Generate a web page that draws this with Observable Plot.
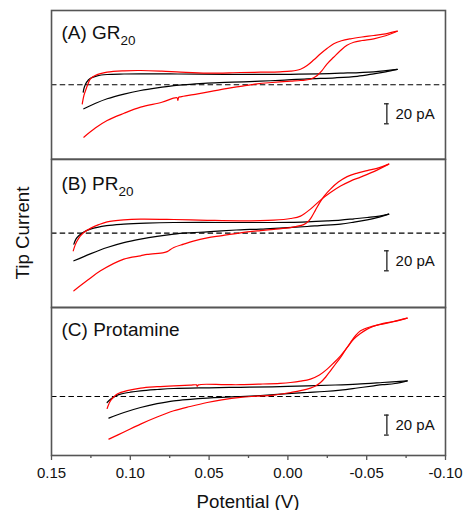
<!DOCTYPE html>
<html><head><meta charset="utf-8">
<script src="https://cdn.jsdelivr.net/npm/d3@7"></script>
<script src="https://cdn.jsdelivr.net/npm/@observablehq/plot@0.6"></script>
<style>
body{margin:0;background:#fff;}
#chart{position:relative;width:464px;height:510px;overflow:hidden;background:#fff;font-family:"Liberation Sans",Arial,sans-serif;}
#chart svg{position:absolute;left:0;}
</style></head><body><div id="chart"></div>
<script>
// ---------- data ----------
const xTicks = [0.15, 0.10, 0.05, 0.00, -0.05, -0.10];
const xMinorTicks = [0.125, 0.075, 0.025, -0.025, -0.075];
const xLabel = "Potential (V)";
const yLabel = "Tip Current";
const panelNames = ["(A) GR", "(B) PR", "(C) Protamine"];
const panelSubscripts = ["20", "20", ""];
const scaleBarText = "20 pA";
const scaleBarSize = 20;

// [potential (V), current (pA) relative to dashed baseline]
const grBlackFwd = [[0.1299,-7.4],[0.1292,-2.5],[0.1278,2.5],[0.1253,6.5],[0.1210,9],[0.1147,10.3],[0.1040,10.8],[0.0935,11],[0.0700,10.8],[0.0400,10.4],[0.0174,10.4],[-0.0017,10.5],[-0.0200,11],[-0.0334,11.6],[-0.0545,13],[-0.0694,15.5]];
const grBlackRev = [[-0.0694,15.5],[-0.0620,13],[-0.0545,11],[-0.0440,8.5],[-0.0300,7],[-0.0122,6],[0.0050,4.5],[0.0174,3.6],[0.0350,2.6],[0.0512,1.6],[0.0620,0.5],[0.0724,-0.8],[0.0830,-3],[0.0935,-5.7],[0.1040,-9.3],[0.1147,-14],[0.1220,-18.5],[0.1295,-24]];
const grRedFwd = [[0.1305,-19],[0.1295,-11],[0.1284,-5.7],[0.1268,1],[0.1253,6],[0.1220,9.5],[0.1147,12.6],[0.1040,14],[0.0935,14.3],[0.0800,13.6],[0.0681,12.6],[0.0512,11.6],[0.0301,12.3],[0.0174,12.6],[0.0050,13],[-0.0017,13.6],[-0.0080,15.5],[-0.0122,19.3],[-0.0165,25],[-0.0207,31],[-0.0250,36.5],[-0.0291,41],[-0.0340,44],[-0.0397,46],[-0.0470,47.8],[-0.0545,49.3],[-0.0620,51],[-0.0694,53.6]];
const grRedRev = [[-0.0694,53.6],[-0.0620,49],[-0.0545,46],[-0.0470,44.3],[-0.0418,42.6],[-0.0375,39.5],[-0.0334,34.3],[-0.0290,27.5],[-0.0249,21],[-0.0215,14],[-0.0186,9.3],[-0.0143,5.5],[-0.0080,4.3],[-0.0017,3.6],[0.0100,2.3],[0.0195,1],[0.0301,-1.5],[0.0420,-4.5],[0.0512,-7.4],[0.0600,-9.8],[0.0681,-12],[0.0693,-12.5],[0.0698,-15.5],[0.0704,-13],[0.0800,-17.5],[0.0935,-22.4],[0.1040,-28.5],[0.1147,-35.7],[0.1220,-43],[0.1295,-52.4]];

const prBlackFwd = [[0.1358,-11],[0.1345,-6],[0.1327,-2.7],[0.1295,1],[0.1253,4],[0.1150,7.5],[0.1041,9],[0.0900,10],[0.0724,10.6],[0.0400,10.6],[0.0174,10.6],[-0.0017,10.8],[-0.0122,11.3],[-0.0250,12.2],[-0.0334,13],[-0.0420,14.3],[-0.0503,15.6],[-0.0580,17],[-0.0640,19]];
const prBlackRev = [[-0.0640,19],[-0.0580,16],[-0.0503,13.3],[-0.0420,11],[-0.0334,9],[-0.0200,7.5],[-0.0122,6.6],[0.0030,5.3],[0.0174,4],[0.0301,3.3],[0.0420,2.3],[0.0512,1.3],[0.0620,0.3],[0.0724,-1],[0.0830,-3.2],[0.0935,-6],[0.1041,-9.5],[0.1147,-14.4],[0.1250,-20.5],[0.1358,-27.7]];
const prRedFwd = [[0.1362,-17.7],[0.1350,-12],[0.1337,-7.7],[0.1318,-3],[0.1295,0.6],[0.1250,5],[0.1200,8.5],[0.1147,11.3],[0.1041,13.3],[0.0935,14],[0.0724,13.6],[0.0512,12.8],[0.0301,12.3],[0.0089,13],[-0.0017,14.6],[-0.0080,17],[-0.0143,24],[-0.0207,33],[-0.0270,40.5],[-0.0334,47],[-0.0397,52],[-0.0461,56],[-0.0545,61.5],[-0.0640,69]];
const prRedRev = [[-0.0640,69],[-0.0580,65.5],[-0.0503,62.5],[-0.0440,60],[-0.0376,56.5],[-0.0320,51],[-0.0270,44],[-0.0230,37],[-0.0200,30],[-0.0175,23],[-0.0150,16],[-0.0131,12],[-0.0100,8.5],[-0.0050,6.5],[-0.0017,5.5],[0.0089,3.8],[0.0174,2.5],[0.0301,0.3],[0.0428,-2.7],[0.0512,-4.8],[0.0600,-8],[0.0661,-11],[0.0724,-14.4],[0.0766,-18.5],[0.0787,-19.5],[0.0893,-21.3],[0.0935,-22.7],[0.1041,-26],[0.1189,-37.7],[0.1270,-47],[0.1358,-57.7]];

const ptBlackFwd = [[0.1147,-6],[0.1131,-3.5],[0.1115,-1.6],[0.1090,0.8],[0.1062,2.4],[0.1000,4.3],[0.0935,5.7],[0.0830,7],[0.0724,8],[0.0500,8.7],[0.0301,9.2],[0.0100,9.7],[-0.0122,10.7],[-0.0300,11.5],[-0.0440,12.4],[-0.0600,14],[-0.0757,15.7]];
const ptBlackRev = [[-0.0757,15.7],[-0.0680,13],[-0.0600,11.8],[-0.0545,10.7],[-0.0440,8.5],[-0.0334,6.4],[-0.0230,5],[-0.0122,4],[0.0000,2.8],[0.0174,1],[0.0301,0],[0.0420,-0.8],[0.0512,-1.6],[0.0620,-2.8],[0.0724,-4.3],[0.0830,-7.2],[0.0935,-11],[0.1040,-16],[0.1136,-21.6]];
const ptRedFwd = [[0.1147,-12],[0.1136,-7.5],[0.1126,-4.3],[0.1105,-0.5],[0.1083,2.4],[0.1020,5.8],[0.0935,8.4],[0.0830,9.8],[0.0724,10.7],[0.0620,11.3],[0.0580,11.6],[0.0575,10.2],[0.0568,11.6],[0.0400,11.8],[0.0301,11.8],[0.0174,12.4],[0.0050,13.2],[-0.0017,14],[-0.0080,15.3],[-0.0143,17.4],[-0.0200,21.5],[-0.0249,27.4],[-0.0290,33.5],[-0.0334,40.7],[-0.0376,49],[-0.0418,57.4],[-0.0460,63],[-0.0503,67.4],[-0.0545,70.3],[-0.0588,72.4],[-0.0670,75],[-0.0757,78.4]];
const ptRedRev = [[-0.0757,78.4],[-0.0670,74.8],[-0.0588,72],[-0.0520,69.5],[-0.0461,65.7],[-0.0430,61],[-0.0397,54],[-0.0365,46.5],[-0.0334,39],[-0.0300,32],[-0.0270,25.7],[-0.0240,19.5],[-0.0207,14],[-0.0175,10.5],[-0.0143,8.4],[-0.0080,5.8],[-0.0017,4],[0.0089,1.4],[0.0200,0.3],[0.0301,-0.8],[0.0420,-3.3],[0.0512,-6],[0.0620,-10],[0.0724,-14.3],[0.0830,-20.5],[0.0935,-27.6],[0.1040,-35.5],[0.1136,-42.6]];

// ---------- layout / style ----------
const FONT = "'Liberation Sans', Arial, sans-serif";
const BLACK = "#000000", RED = "#ff0000", FRAME = "#555555";
const W = 464, ML = 51, MR = 19;
const panels = [
  {top: 10,    h: 148.7, mb: 0,    yDomain: [-74.4, 74.3], labelDy: 14.8, sbTop: -19,   curves: [[grBlackFwd, BLACK],[grBlackRev, BLACK],[grRedFwd, RED],[grRedRev, RED]]},
  {top: 158.7, h: 148,   mb: 0,    yDomain: [-74.4, 73.6], labelDy: 17.1, sbTop: -17.7, curves: [[prBlackFwd, BLACK],[prBlackRev, BLACK],[prRedFwd, RED],[prRedRev, RED]]},
  {top: 306.7, h: 148,   mb: 55.3, yDomain: [-59, 89],     labelDy: 15.1, sbTop: -18.6, curves: [[ptBlackFwd, BLACK],[ptBlackRev, BLACK],[ptRedFwd, RED],[ptRedRev, RED]]}
];
const sbX = -0.0628, sbCap = 0.0015, sbTextX = -0.0683;

const chart = document.getElementById("chart");

panels.forEach((p, i) => {
  const marks = [
    Plot.ruleY([0], {stroke: BLACK, strokeWidth: 1.1, strokeDasharray: "5.5,3.2"}),
    ...p.curves.map(([data, color]) => Plot.line(data, {x: d => d[0], y: d => d[1], stroke: color, strokeWidth: 1.2, curve: "catmull-rom"})),
    Plot.ruleX([scaleBarSize], {x: () => sbX, y1: () => p.sbTop, y2: d => p.sbTop - d, stroke: "#222", strokeWidth: 1.3}),
    Plot.ruleY([0, scaleBarSize], {y: d => p.sbTop - d, x1: () => sbX - sbCap, x2: () => sbX + sbCap, stroke: "#222", strokeWidth: 1.3}),
    Plot.text([scaleBarText], {x: () => sbTextX, y: () => p.sbTop - scaleBarSize / 2, text: d => d, textAnchor: "start", lineAnchor: "middle", fontSize: 15, fill: "#111"}),
    Plot.text([panelNames[i]], {frameAnchor: "top-left", dx: 10, dy: p.labelDy, text: d => d, textAnchor: "start", fontSize: 19, fill: "#111"}),
    Plot.frame({stroke: FRAME, strokeWidth: 1.6})
  ];
  if (i === 2) {
    marks.push(Plot.axisX({ticks: xTicks, tickFormat: d => d.toFixed(2), tickSize: 5, tickPadding: 7, fontSize: 15, stroke: FRAME, strokeWidth: 1.3, fill: "#111", label: null}));
    marks.push(Plot.axisX({ticks: xMinorTicks, tickFormat: () => "", tickSize: 3, stroke: FRAME, strokeWidth: 1.3, label: null}));
  }
  const svg = Plot.plot({
    width: W, height: p.h + p.mb,
    marginLeft: ML, marginRight: MR, marginTop: 0, marginBottom: p.mb,
    x: {domain: [0.15, -0.10], axis: i === 2 ? undefined : null},
    y: {domain: p.yDomain, axis: null},
    style: {background: "transparent", overflow: "visible", fontFamily: FONT, color: "#111"},
    marks
  });
  svg.style.top = p.top + "px";
  // subscript
  if (panelSubscripts[i]) {
    svg.querySelectorAll("text").forEach(t => {
      if (t.textContent === panelNames[i]) {
        const ts = document.createElementNS("http://www.w3.org/2000/svg", "tspan");
        ts.setAttribute("dy", "5.8");
        ts.setAttribute("font-size", "13.5");
        ts.textContent = panelSubscripts[i];
        t.appendChild(ts);
      }
    });
  }
  chart.appendChild(svg);
});

// axis titles
const overlay = d3.create("svg").attr("width", W).attr("height", 510)
  .style("position", "absolute").style("top", "0px").style("left", "0px").style("pointer-events", "none")
  .style("font-family", FONT);
overlay.append("text").attr("x", 248).attr("y", 507.5).attr("text-anchor", "middle")
  .attr("font-size", 18.7).attr("fill", "#111").text(xLabel);
overlay.append("text").attr("transform", "translate(29,233) rotate(-90)").attr("text-anchor", "middle")
  .attr("font-size", 18.7).attr("fill", "#111").text(yLabel);
chart.appendChild(overlay.node());
</script>
</body></html>
